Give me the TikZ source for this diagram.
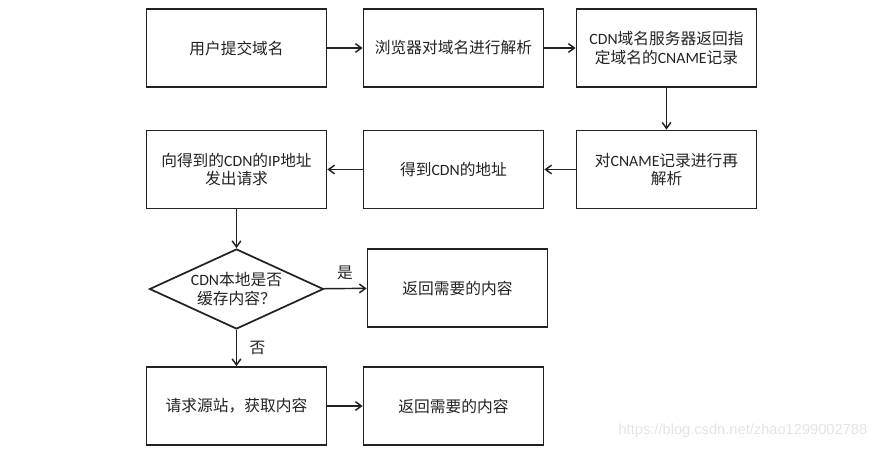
\documentclass[tikz,border=0pt]{standalone}
\usepackage{fontspec}
\setmainfont{Noto Sans CJK SC}
\newfontfamily\latfont{Carlito}
\newfontfamily\markfont{Liberation Sans}
\usetikzlibrary{arrows.meta,shapes.geometric}
\definecolor{ink}{HTML}{222222}
\definecolor{faint}{HTML}{E4E4E4}
\newcommand{\en}[1]{{\latfont #1}}
\tikzset{
  stepbox/.style={draw=ink, line width=1.3pt, align=center, text=ink,
    minimum width=135pt, minimum height=58.5pt,
    font=\fontsize{11.8}{14}\selectfont},
  askbox/.style={stepbox, diamond, aspect=2.2, inner sep=0pt,
    minimum width=130.5pt, minimum height=60pt},
  arr/.style={-{Straight Barb[length=4.5pt,width=6.5pt]}, line width=1.1pt, draw=ink},
  tag/.style={font=\fontsize{11.8}{14}\selectfont, text=ink}
}

\begin{document}
\begin{tikzpicture}[x=0.75pt,y=-0.75pt]
    \useasboundingbox (0,0) rectangle (881,450);
    \foreach \n/\x/\y/\lab in {
      1/236.5/48/用户提交域名,
      2/453.5/48/浏览器对域名进行解析,
      3/666.5/48/{\en{CDN}域名服务器返回指\\定域名的\en{CNAME}记录},
      4/666.5/169.5/{对\en{CNAME}记录进行再\\解析},
      5/453.5/169.5/{得到\en{CDN}的地址},
      6/236.5/169.5/{向得到的\en{CDN}的\en{IP}地址\\发出请求},
      7/457.5/288/返回需要的内容,
      8/236.5/406/请求源站，获取内容,
      9/453.5/406/返回需要的内容} {
      \node[stepbox] (s\n) at (\x,\y) {\lab};
    }
    \node[askbox] (ask) at (236.5,289) {\en{CDN}本地是否\\缓存内容？};
    \foreach \a/\b in {1/2,2/3,3/4,4/5,5/6,8/9}
      \draw[arr] (s\a) -- (s\b);
    \draw[arr] (s6) -- (ask);
    \draw[arr] (ask) -- node[tag, above=3pt] {是} (s7);
    \draw[arr] (ask) -- node[tag, right=6pt] {否} (s8);
    \node[font=\markfont\fontsize{11}{13}\selectfont, text=faint, anchor=east] (mark)
      at (872,431) {https://blog.csdn.net/zhao1299002788};
  \end{tikzpicture}
\end{document}
